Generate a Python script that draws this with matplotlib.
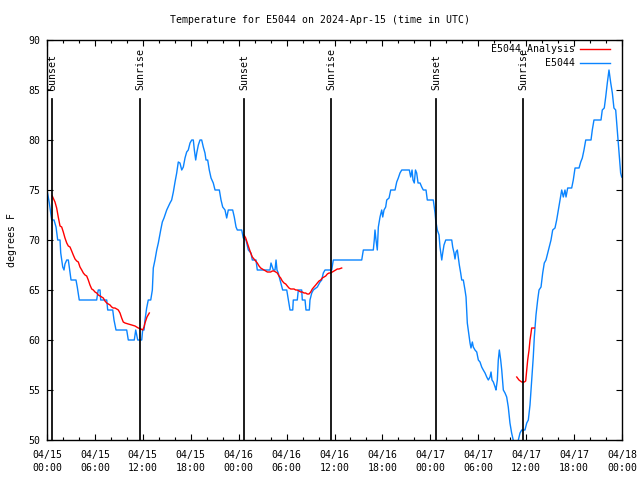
import datetime as dt
import numpy as np
import matplotlib
matplotlib.use("Agg")
import matplotlib.pyplot as plt
import matplotlib.dates as mdates

plt.rcParams['font.family'] = ['DejaVu Sans Mono']

# ---- data (hours since 2024-04-15 00:00 UTC, degrees F) ----
blue_hours = [0.00, 0.29, 0.59, 0.88, 1.13, 1.34, 1.63, 1.72, 1.97, 2.13, 2.25, 2.47, 2.67, 2.79, 3.01,
              3.63, 3.79, 4.04, 6.22, 6.35, 6.42, 6.64, 6.72, 7.48, 7.60, 8.23, 8.39, 8.64, 9.98, 10.18,
              10.93, 11.11, 11.36, 11.86, 11.98, 12.15, 12.27, 12.48, 12.68, 12.99, 13.19, 13.31, 13.52,
              13.74, 13.94, 14.24, 14.44, 14.65, 14.99, 15.40, 15.61, 15.82, 16.03, 16.24, 16.44, 16.65,
              16.87, 17.07, 17.28, 17.49, 17.69, 17.91, 18.12, 18.32, 18.45, 18.62, 18.75, 18.95, 19.16,
              19.37, 19.57, 19.78, 19.91, 20.12, 20.32, 20.54, 20.82, 21.04, 21.58, 21.79, 22.00, 22.29,
              22.50, 22.70, 23.25, 23.45, 23.67, 23.83, 24.38, 24.58, 24.92, 25.21, 25.54, 25.71, 26.17,
              26.33, 27.92, 28.05, 28.21, 28.34, 28.55, 28.68, 28.80, 28.96, 29.18, 29.51, 30.02, 30.22,
              30.43, 30.77, 30.84, 31.34, 31.47, 31.89, 31.97, 32.31, 32.43, 32.85, 32.93, 33.15, 33.35,
              33.85, 34.19, 34.40, 34.60, 34.81, 35.65, 35.85, 36.06, 39.41, 39.61, 40.86, 40.98, 41.07,
              41.20, 41.36, 41.49, 41.70, 41.91, 42.04, 42.20, 42.41, 42.54, 42.83, 43.04, 43.58, 43.79,
              43.99, 44.20, 44.42, 45.37, 45.54, 45.71, 45.83, 45.99, 46.14, 46.29, 46.46, 46.71, 46.92,
              47.12, 47.46, 47.62, 48.37, 48.59, 48.67, 48.87, 49.09, 49.21, 49.34, 49.43, 49.55, 49.71,
              49.93, 50.68, 50.80, 50.97, 51.09, 51.22, 51.38, 51.50, 51.63, 51.80, 51.93, 52.13, 52.34,
              52.47, 52.63, 52.84, 52.97, 53.09, 53.26, 53.38, 53.59, 53.81, 54.01, 54.22, 54.43, 54.63,
              54.85, 55.06, 55.26, 55.47, 55.60, 55.72, 55.89, 56.11, 56.22, 56.39, 56.51, 56.64, 56.81,
              56.94, 57.14, 57.35, 57.56, 57.76, 57.97, 58.18, 58.38, 58.60, 58.85, 59.02, 59.23, 59.44,
              59.85, 60.07, 60.27, 60.48, 60.69, 60.89, 61.02, 61.11, 61.23, 61.44, 61.61, 61.86, 62.07,
              62.27, 62.48, 62.70, 62.90, 63.11, 63.32, 63.61, 63.82, 64.03, 64.24, 64.45, 64.65, 64.86,
              64.99, 65.20, 65.70, 65.90, 66.12, 66.62, 66.83, 67.03, 67.24, 67.46, 68.12, 68.28, 68.49,
              69.37, 69.53, 69.78, 69.96, 70.16, 70.37, 70.59, 70.79, 70.99, 71.21, 71.41, 71.62, 71.83,
              71.96]
blue_temps = [75.0, 73.7, 72.0, 72.0, 71.3, 70.0, 70.0, 68.7, 67.3, 67.0, 67.6, 68.0, 68.0, 67.3, 66.0,
              66.0, 65.3, 64.0, 64.0, 64.7, 65.0, 65.0, 64.0, 64.0, 63.0, 63.0, 62.0, 61.0, 61.0, 60.0,
              60.0, 61.0, 60.0, 60.0, 61.0, 61.0, 62.0, 63.2, 64.0, 64.0, 65.0, 67.2, 68.0,
              69.0, 69.7, 71.0, 71.8, 72.2, 73.0, 73.7, 74.0, 74.8, 75.8, 76.7, 77.8, 77.7,
              77.0, 77.3, 78.2, 78.8, 79.0, 79.7, 80.0, 80.0, 79.0, 78.0, 78.7, 79.5, 80.0,
              80.0, 79.3, 78.7, 78.0, 78.0, 77.0, 76.2, 75.7, 75.0, 75.0, 74.0, 73.3, 73.0,
              72.2, 73.0, 73.0, 72.3, 71.3, 71.0, 71.0, 70.2, 70.0, 69.0, 68.7, 68.0, 68.0,
              67.0, 67.0, 67.7, 67.3, 67.0, 67.0, 68.0, 67.0, 66.7, 66.0, 65.0, 65.0, 64.0,
              63.0, 63.0, 64.0, 64.0, 65.0, 65.0, 64.0, 64.0, 63.0, 63.0, 64.0, 64.7, 65.0,
              65.3, 65.8, 66.0, 66.7, 67.0, 67.0, 68.0, 68.0, 68.0, 69.0, 69.0, 70.0, 71.0,
              70.0, 69.0, 71.3, 72.3, 73.0, 72.3, 73.0, 73.3, 74.0, 74.2, 75.0, 75.0, 75.8,
              76.2, 76.7, 77.0, 77.0, 76.3, 77.0, 76.0, 75.7, 77.0, 76.7, 75.7, 75.7, 75.3,
              75.0, 75.0, 74.0, 74.0, 72.7, 72.0, 71.0, 70.5, 69.3, 68.5, 68.0, 68.7, 69.5,
              70.0, 70.0, 69.3, 68.7, 68.1, 68.8, 69.0, 68.3, 67.5, 66.7, 66.0, 66.0, 65.0,
              64.3, 61.7, 60.5, 59.7, 59.2, 59.8, 59.3, 59.0, 58.8, 58.0, 57.8, 57.3, 57.0,
              56.7, 56.3, 56.0, 56.3, 56.8, 56.0, 55.8, 55.3, 55.0, 56.0, 58.0, 59.0, 58.0,
              57.0, 55.0, 54.7, 54.3, 53.3, 51.7, 50.7, 50.0, 49.3, 49.3, 50.0, 50.7, 51.0,
              51.0, 51.7, 52.0, 53.5, 56.0, 58.3, 60.3, 61.2, 62.5, 64.0, 65.0, 65.3, 66.7,
              67.7, 68.0, 68.7, 69.3, 70.0, 71.0, 71.2, 72.0, 73.0, 74.0, 75.0, 74.3, 75.0,
              74.3, 75.2, 75.2, 76.0, 77.2, 77.2, 77.8, 78.2, 79.0, 80.0, 80.0, 81.0, 82.0,
              82.0, 83.0, 83.2, 84.3, 85.7, 87.0, 85.7, 84.7, 83.2, 83.0, 81.0, 79.0, 76.7,
              76.3]

red1_hours = [0.66, 1.00, 1.21, 1.41, 1.63, 1.84, 2.04, 2.25, 2.47, 2.67, 2.88, 3.09, 3.29, 3.51, 3.72,
              3.92, 4.13, 4.35, 4.55, 4.76, 4.97, 5.17, 5.38, 5.60, 5.80, 6.01, 6.22, 6.42, 6.64, 6.85,
              7.05, 7.26, 7.48, 7.68, 7.89, 8.10, 8.30, 8.51, 8.73, 8.93, 9.14, 9.35, 9.55, 9.77, 10.18,
              10.61, 11.02, 11.43, 11.77, 11.98, 12.15, 12.27, 12.52, 12.81]
red1_temps = [74.4, 73.8, 73.2, 72.3, 71.4, 71.3, 70.8, 70.2, 69.7, 69.4, 69.3, 68.9, 68.5, 68.1, 67.9,
              67.8, 67.3, 67.0, 66.7, 66.5, 66.4, 66.0, 65.5, 65.1, 65.0, 64.8, 64.7, 64.5, 64.4, 64.3,
              64.2, 63.9, 63.7, 63.6, 63.5, 63.3, 63.2, 63.2, 63.1, 63.0, 62.7, 62.2, 61.8, 61.7, 61.6,
              61.5, 61.4, 61.2, 61.1, 61.0, 61.3, 61.7, 62.3, 62.7]

red2_hours = [24.67, 24.88, 25.08, 25.29, 25.51, 25.71, 25.92, 26.13, 26.33, 26.55, 26.76, 26.96, 27.17,
              27.39, 27.59, 27.80, 28.01, 28.21, 28.42, 28.64, 28.84, 29.05, 29.26, 29.46, 29.68, 29.89,
              30.09, 30.30, 30.52, 30.72, 30.93, 31.14, 31.34, 31.56, 31.77, 31.97, 32.18, 32.39, 32.59,
              32.81, 33.02, 33.22, 33.43, 33.65, 33.85, 34.06, 34.27, 34.47, 34.69, 34.90, 35.10, 35.31,
              35.52, 35.73, 35.94, 36.15, 36.35, 36.56, 36.90]
red2_temps = [70.5, 70.2, 69.7, 69.2, 68.7, 68.3, 68.1, 67.9, 67.7, 67.4, 67.2, 67.1, 67.0,
              66.9, 66.8, 66.8, 66.8, 66.9, 66.9, 66.8, 66.7, 66.4, 66.2, 65.9, 65.7, 65.6,
              65.4, 65.2, 65.1, 65.1, 65.1, 65.0, 65.0, 64.9, 64.8, 64.8, 64.7, 64.7, 64.6,
              64.6, 64.8, 65.1, 65.3, 65.5, 65.7, 65.9, 66.0, 66.2, 66.3, 66.4, 66.6, 66.7,
              66.7, 66.8, 66.9, 67.0, 67.1, 67.1, 67.2]

red3_hours = [58.82, 59.10, 59.44, 59.77, 59.94, 60.07, 60.19, 60.36, 60.48, 60.61, 60.69, 61.02]
red3_temps = [56.3, 56.0, 55.8, 55.8, 55.9, 57.0, 58.0, 59.0, 60.0, 60.7, 61.2, 61.2]

event_hours = [0.67, 11.65, 24.70, 35.60, 48.73, 59.62]
event_labels = ["Sunset", "Sunrise", "Sunset", "Sunrise", "Sunset", "Sunrise"]

title = "Temperature for E5044 on 2024-Apr-15 (time in UTC)"
series_names = ["E5044_Analysis", "E5044"]
red_color = "#ff0000"
blue_color = "#0a84ff"

base = dt.datetime(2024, 4, 15, 0, 0)


def to_dt(hours):
    return [base + dt.timedelta(hours=h) for h in hours]


fig = plt.figure(figsize=(6.4, 4.8), dpi=100)
ax = fig.add_axes([47 / 640, 1 - 440 / 480, 575 / 640, 400 / 480])

ax.plot(to_dt(blue_hours), blue_temps, color=blue_color, lw=1.0, zorder=2)
for hh, tt in [(red1_hours, red1_temps), (red2_hours, red2_temps), (red3_hours, red3_temps)]:
    ax.plot(to_dt(hh), tt, color=red_color, lw=1.0, zorder=3)

for h, lab in zip(event_hours, event_labels):
    t = to_dt([h])[0]
    ax.plot([t, t], [50, 84.1], color="black", lw=1.25, zorder=4)
    ax.text(t, 85.0, lab, rotation=90, ha="center", va="bottom", fontsize=7.1, zorder=5)

ax.set_xlim(base, base + dt.timedelta(hours=72))
ax.set_ylim(50, 90)
ax.set_yticks(np.arange(50, 91, 5))
ax.xaxis.set_major_locator(mdates.HourLocator(byhour=[0, 6, 12, 18]))
ax.xaxis.set_minor_locator(mdates.HourLocator(byhour=range(0, 24, 2)))
ax.xaxis.set_major_formatter(mdates.DateFormatter("%m/%d\n%H:%M"))
ax.tick_params(axis="both", which="major", direction="in", length=4.5, width=0.8,
               top=True, right=True, labelsize=7.1, pad=5)
ax.tick_params(axis="x", which="minor", direction="in", length=2.2, width=0.8, top=True)
ax.tick_params(axis="x", which="major", pad=7)
for lab in ax.get_xticklabels():
    lab.set_linespacing(1.45)
for s in ax.spines.values():
    s.set_linewidth(1.0)

ax.set_ylabel("degrees F", fontsize=7.1)
ax.yaxis.set_label_coords(-0.052, 0.5)
fig.text(0.5, 1 - 20 / 480, title, ha="center", va="center", fontsize=7.1)

# legend (gnuplot style: right-justified labels, sample line after)
for i, (name, col) in enumerate(zip(series_names, [red_color, blue_color])):
    ypx = 49 + i * 14
    yf = 1 - ypx / 480
    fig.text(575 / 640, yf, name, ha="right", va="center", fontsize=7.1)
    fig.add_artist(plt.Line2D([580 / 640, 610 / 640], [yf, yf], color=col, lw=1.0))

fig.savefig("out.png", dpi=100)
